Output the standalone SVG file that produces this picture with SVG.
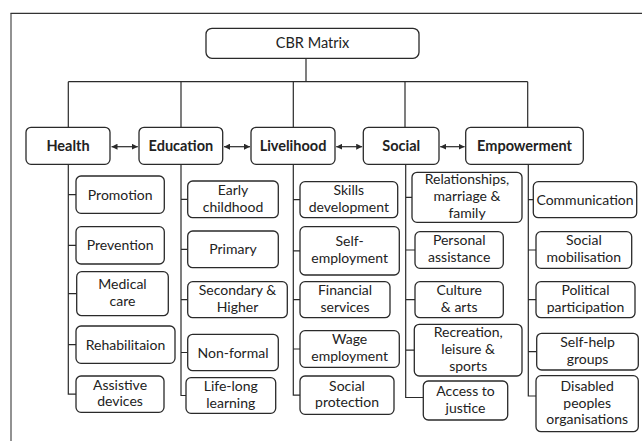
<svg xmlns="http://www.w3.org/2000/svg" width="643" height="441" viewBox="0 0 643 441">
<defs>
<style>
.box{fill:#fff;stroke:#2a2a2a;stroke-width:1.3}
.t{font-family:Lato,"Liberation Sans",sans-serif;font-size:14px;fill:#222;text-anchor:middle}
.b{font-weight:bold;font-size:14.5px}
.ln{stroke:#2a2a2a;stroke-width:1.2;fill:none}
.ar{stroke:#2a2a2a;stroke-width:1.2;fill:none;marker-start:url(#ah);marker-end:url(#ah)}
</style>
<marker id="ah" markerUnits="userSpaceOnUse" markerWidth="6" markerHeight="6" refX="6" refY="3" orient="auto-start-reverse"><path d="M0,0 L6,3 L0,6 z" fill="#2a2a2a"/></marker>
</defs>
<rect width="643" height="441" fill="#fff"/>
<g id="frame">
<path d="M11,441 V13.3" stroke="#777" stroke-width="1.6" fill="none"/>
<path d="M10.5,13.3 H642" stroke="#333" stroke-width="1.3" fill="none"/>
</g>
<g id="connectors">
<path class="ln" d="M306,58.3 V81.7 M68.3,81.7 H527.7 M68.3,81.7 V127.3 M181,81.7 V127.3 M293.3,81.7 V127.3 M405,81.7 V127.3 M527.7,81.7 V127.3"/>
<path class="ln" d="M68.3,164.3 V394.2 H76 M68.3,194.7 H76 M68.3,245.3 H76 M68.3,293.7 H76.7 M68.3,344.7 H76"/>
<path class="ln" d="M181,164.3 V395.5 H186 M181,199.3 H187.7 M181,249.3 H187.7 M181,299.7 H187.7 M181,352.5 H187.7"/>
<path class="ln" d="M293.3,164.3 V395.2 H300 M293.3,199.7 H300 M293.3,250.8 H300 M293.3,299.7 H300 M293.3,349 H300"/>
<path class="ln" d="M405.7,164.3 V397.5 H423.3 M405.7,197.3 H412 M405.7,250 H415 M405.7,299.7 H415 M405.7,350.2 H414.3"/>
<path class="ln" d="M528.3,164.3 V396 H536 M528.3,199.7 H533.3 M528.3,250 H536 M528.3,299.7 H536 M528.3,351.7 H536.7"/>
<path class="ar" d="M111.5,146.7 H137.8"/>
<path class="ar" d="M224,146.7 H250"/>
<path class="ar" d="M336.2,146.7 H362.2"/>
<path class="ar" d="M440.2,146.7 H464.6"/>
</g>
<g id="cbr"><rect class="box" x="206" y="28.3" width="213" height="30" rx="6"/><text class="t" x="312.5" y="48.3" style="font-size:14.5px">CBR Matrix</text></g>
<g id="health"><rect class="box" x="26" y="127.3" width="84" height="37" rx="5"/><text class="t b" x="68" y="150.8">Health</text></g>
<g id="education"><rect class="box" x="139" y="127.3" width="83.7" height="37" rx="5"/><text class="t b" x="180.9" y="150.8">Education</text></g>
<g id="livelihood"><rect class="box" x="251" y="127.3" width="84" height="37" rx="5"/><text class="t b" x="293" y="150.8">Livelihood</text></g>
<g id="social"><rect class="box" x="363.3" y="127.3" width="75.7" height="37" rx="5"/><text class="t b" x="401.2" y="150.8">Social</text></g>
<g id="empowerment"><rect class="box" x="465.7" y="127.3" width="117.6" height="37" rx="5"/><text class="t b" x="524.5" y="150.8">Empowerment</text></g>

<g id="promotion"><rect class="box" x="76" y="176" width="88.3" height="37.3" rx="5"/><text class="t" x="120.2" y="199.7">Promotion</text></g>
<g id="prevention"><rect class="box" x="76" y="226.7" width="88.3" height="37.3" rx="5"/><text class="t" x="120.2" y="250.3">Prevention</text></g>
<g id="medical"><rect class="box" x="76.7" y="271.7" width="91.6" height="44" rx="5"/><text class="t" y="289.1"><tspan x="122.5">Medical</tspan><tspan x="122.5" dy="16.8">care</tspan></text></g>
<g id="rehab"><rect class="box" x="76" y="326" width="99" height="37.3" rx="5"/><text class="t" x="125.5" y="349.7">Rehabilitaion</text></g>
<g id="assistive"><rect class="box" x="76" y="376" width="88" height="36.3" rx="5"/><text class="t" y="389.6"><tspan x="120">Assistive</tspan><tspan x="120" dy="16.8">devices</tspan></text></g>

<g id="early"><rect class="box" x="187.7" y="181" width="90.6" height="36.7" rx="5"/><text class="t" y="194.7"><tspan x="233">Early</tspan><tspan x="233" dy="16.8">childhood</tspan></text></g>
<g id="primary"><rect class="box" x="187.7" y="231" width="90.6" height="36.7" rx="5"/><text class="t" x="233" y="254.3">Primary</text></g>
<g id="secondary"><rect class="box" x="187.7" y="281.7" width="99.6" height="36" rx="5"/><text class="t" y="295.1"><tspan x="237.5">Secondary &amp;</tspan><tspan x="237.5" dy="16.8">Higher</tspan></text></g>
<g id="nonformal"><rect class="box" x="187.7" y="334.3" width="90.6" height="36.4" rx="5"/><text class="t" x="233" y="357.5">Non-formal</text></g>
<g id="lifelong"><rect class="box" x="186" y="377.7" width="89.7" height="35.6" rx="5"/><text class="t" y="390.9"><tspan x="230.8">Life-long</tspan><tspan x="230.8" dy="16.8">learning</tspan></text></g>

<g id="skills"><rect class="box" x="300" y="181.7" width="97.7" height="36" rx="5"/><text class="t" y="195.1"><tspan x="348.8">Skills</tspan><tspan x="348.8" dy="16.8">development</tspan></text></g>
<g id="selfemp"><rect class="box" x="300" y="226.7" width="99.3" height="48.3" rx="5"/><text class="t" y="246.2"><tspan x="349.6">Self-</tspan><tspan x="349.6" dy="16.8">employment</tspan></text></g>
<g id="financial"><rect class="box" x="300" y="281.7" width="90" height="36" rx="5"/><text class="t" y="295.1"><tspan x="345">Financial</tspan><tspan x="345" dy="16.8">services</tspan></text></g>
<g id="wage"><rect class="box" x="300" y="330.7" width="99.3" height="36.6" rx="5"/><text class="t" y="344.4"><tspan x="349.6">Wage</tspan><tspan x="349.6" dy="16.8">employment</tspan></text></g>
<g id="protection"><rect class="box" x="300" y="376" width="94" height="38.3" rx="5"/><text class="t" y="390.6"><tspan x="347">Social</tspan><tspan x="347" dy="16.8">protection</tspan></text></g>

<g id="relationships"><rect class="box" x="412" y="172.3" width="110" height="50" rx="5"/><text class="t" y="184.3"><tspan x="467">Relationships,</tspan><tspan x="467" dy="16.8">marriage &amp;</tspan><tspan x="467" dy="16.8">family</tspan></text></g>
<g id="personal"><rect class="box" x="415" y="231.7" width="88.3" height="36.6" rx="5"/><text class="t" y="245.4"><tspan x="459.2">Personal</tspan><tspan x="459.2" dy="16.8">assistance</tspan></text></g>
<g id="culture"><rect class="box" x="415" y="281.7" width="88.3" height="36" rx="5"/><text class="t" y="295.1"><tspan x="459.2">Culture</tspan><tspan x="459.2" dy="16.8">&amp; arts</tspan></text></g>
<g id="recreation"><rect class="box" x="414.3" y="324.3" width="107.7" height="51.7" rx="5"/><text class="t" y="337.2"><tspan x="468.2">Recreation,</tspan><tspan x="468.2" dy="16.8">leisure &amp;</tspan><tspan x="468.2" dy="16.8">sports</tspan></text></g>
<g id="justice"><rect class="box" x="423.3" y="381" width="84.4" height="39" rx="5"/><text class="t" y="395.9"><tspan x="465.5">Access to</tspan><tspan x="465.5" dy="16.8">justice</tspan></text></g>

<g id="communication"><rect class="box" x="533.3" y="181.7" width="103.4" height="36" rx="5"/><text class="t" x="585" y="204.7">Communication</text></g>
<g id="mobilisation"><rect class="box" x="536" y="231.7" width="95.7" height="36.6" rx="5"/><text class="t" y="245.4"><tspan x="583.8">Social</tspan><tspan x="583.8" dy="16.8">mobilisation</tspan></text></g>
<g id="political"><rect class="box" x="536" y="281.7" width="99" height="36" rx="5"/><text class="t" y="295.1"><tspan x="585.5">Political</tspan><tspan x="585.5" dy="16.8">participation</tspan></text></g>
<g id="selfhelp"><rect class="box" x="536.7" y="333.3" width="101.6" height="36.7" rx="5"/><text class="t" y="347.1"><tspan x="587.5">Self-help</tspan><tspan x="587.5" dy="16.8">groups</tspan></text></g>
<g id="disabled"><rect class="box" x="536" y="375.7" width="102.3" height="56" rx="5"/><text class="t" y="390.7"><tspan x="587.2">Disabled</tspan><tspan x="587.2" dy="16.8">peoples</tspan><tspan x="587.2" dy="16.8">organisations</tspan></text></g>
</svg>
